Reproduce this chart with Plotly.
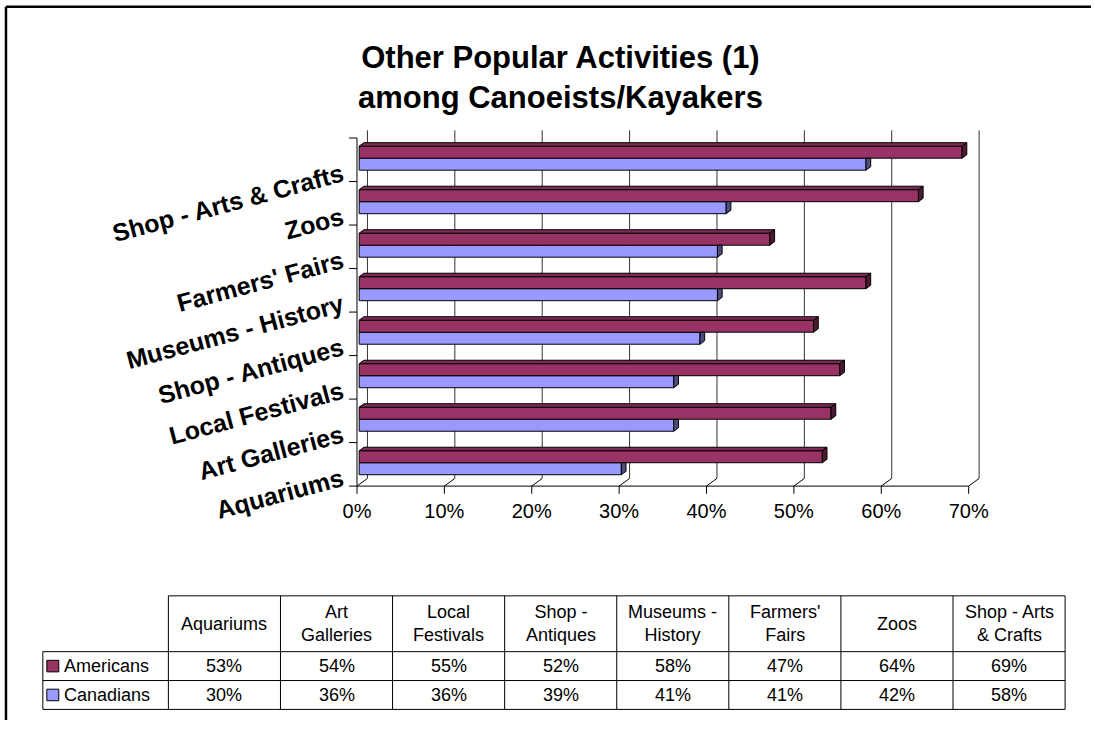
import plotly.graph_objects as go

# ---------------- data ----------------
categories = ["Aquariums", "Art Galleries", "Local Festivals", "Shop - Antiques",
              "Museums - History", "Farmers' Fairs", "Zoos", "Shop - Arts & Crafts"]
americans = [53, 54, 55, 52, 58, 47, 64, 69]
canadians = [30, 36, 36, 39, 41, 41, 42, 58]
header_labels = ["Aquariums", "Art<br>Galleries", "Local<br>Festivals", "Shop -<br>Antiques",
                 "Museums -<br>History", "Farmers'<br>Fairs", "Zoos", "Shop - Arts<br>& Crafts"]
series_names = ["Americans", "Canadians"]
x_ticks = [0, 10, 20, 30, 40, 50, 60, 70]
title_lines = ["Other Popular Activities (1)", "among Canoeists/Kayakers"]

# ---------------- styling / geometry ----------------
AM_COL, AM_TOP, AM_SIDE = "#993366", "#7d2a54", "#4d1a33"
CA_COL, CA_SIDE = "#9999FF", "#4d4d80"
FONT = "Liberation Sans, Arial, sans-serif"

W, H = 1095, 748
X0PX, SX = 358.3, 8.77      # pixel of 0% on the front plane, px per %
Y0PX, SY = 505.0, 45.2      # pixel of front floor, px per category
XMIN, XMAX = -1.6, 71.8
YMIN, YMAX = -0.2, 8.4
DX = 10.5 / SX              # wall depth in x units
DY = 8.0 / SY               # wall depth in y units
NCAT = len(categories)

def pxx(p):
    return p / W

def pxy(p):
    return 1 - p / H

xdom = [pxx(X0PX + XMIN * SX), pxx(X0PX + XMAX * SX)]
ydom = [pxy(Y0PX - YMIN * SY), pxy(Y0PX - YMAX * SY)]

# bar depth placement
F0, FB = 0.21, 0.45
bx0, by0 = F0 * DX, F0 * DY
bdx, bdy = FB * DX, FB * DY
BW = 0.276

am_y = [i + 0.5 + by0 + BW / 2 for i in range(NCAT)]
ca_y = [i + 0.5 + by0 - BW / 2 for i in range(NCAT)]

fig = go.Figure()

# front faces of the bars
fig.add_trace(go.Bar(orientation="h", y=ca_y, x=canadians, base=bx0, width=BW,
                     marker=dict(color=CA_COL, line=dict(color="black", width=1)),
                     name=series_names[1], showlegend=False, hoverinfo="skip"))
fig.add_trace(go.Bar(orientation="h", y=am_y, x=americans, base=bx0, width=BW,
                     marker=dict(color=AM_COL, line=dict(color="black", width=1)),
                     name=series_names[0], showlegend=False, hoverinfo="skip"))

# 3D faces
def side_faces(vals, ys, clip_top=False):
    xs, yy = [], []
    for v, yc in zip(vals, ys):
        xe = v + bx0
        b, t = yc - BW / 2, yc + BW / 2
        top_right = t if clip_top else t + bdy
        xs += [xe, xe + bdx, xe + bdx, xe, xe, None]
        yy += [b, b + bdy, top_right, t, b, None]
    return xs, yy

def top_faces(vals, ys):
    xs, yy = [], []
    for v, yc in zip(vals, ys):
        xe = v + bx0
        t = yc + BW / 2
        xs += [bx0, bx0 + bdx, xe + bdx, xe, bx0, None]
        yy += [t, t + bdy, t + bdy, t, t, None]
    return xs, yy

cx, cy = side_faces(canadians, ca_y, clip_top=True)
fig.add_trace(go.Scatter(x=cx, y=cy, mode="lines", fill="toself", fillcolor=CA_SIDE,
                         line=dict(color="black", width=1), showlegend=False, hoverinfo="skip"))
tx, ty = top_faces(americans, am_y)
fig.add_trace(go.Scatter(x=tx, y=ty, mode="lines", fill="toself", fillcolor=AM_TOP,
                         line=dict(color="black", width=1), showlegend=False, hoverinfo="skip"))
sx_, sy_ = side_faces(americans, am_y)
fig.add_trace(go.Scatter(x=sx_, y=sy_, mode="lines", fill="toself", fillcolor=AM_SIDE,
                         line=dict(color="black", width=1), showlegend=False, hoverinfo="skip"))

shapes = []
LINE = dict(color="black", width=1)
# back-wall gridlines, floor diagonals, front ticks
for t in x_ticks:
    shapes.append(dict(type="line", xref="x", yref="y", x0=t + DX, x1=t + DX, y0=DY, y1=NCAT + DY,
                       line=dict(color="#333333", width=1), layer="below"))
    shapes.append(dict(type="line", xref="x", yref="y", x0=t, x1=t + DX, y0=0, y1=DY,
                       line=LINE, layer="below"))
    shapes.append(dict(type="line", xref="x", yref="y", x0=t, x1=t, y0=0, y1=-8 / SY,
                       line=LINE, layer="below"))
# front floor edge
shapes.append(dict(type="line", xref="x", yref="y", x0=0, x1=x_ticks[-1], y0=0, y1=0,
                   line=LINE, layer="below"))
# category axis and its ticks
shapes.append(dict(type="line", xref="x", yref="y", x0=0, x1=0, y0=0, y1=NCAT,
                   line=LINE, layer="below"))
for i in range(NCAT + 1):
    shapes.append(dict(type="line", xref="x", yref="y", x0=0, x1=-8 / SX, y0=i, y1=i,
                       line=LINE, layer="below"))

# outer chart border (left and top edges visible)
BORDER = dict(color="black", width=2.5)
shapes.append(dict(type="line", xref="paper", yref="paper", x0=pxx(6), x1=pxx(6),
                   y0=0, y1=pxy(7), line=BORDER))
shapes.append(dict(type="line", xref="paper", yref="paper", x0=pxx(6), x1=1,
                   y0=pxy(7), y1=pxy(7), line=BORDER))

# ---------------- data table ----------------
col_x = [169 + 112.5 * k for k in range(NCAT + 1)]
row_y = [619, 677, 707, 737]
leg_x = 43
annotations = []

def hline(x0, x1, y):
    shapes.append(dict(type="line", xref="paper", yref="paper", x0=pxx(x0), x1=pxx(x1),
                       y0=pxy(y), y1=pxy(y), line=LINE))

def vline(x, y0, y1):
    shapes.append(dict(type="line", xref="paper", yref="paper", x0=pxx(x), x1=pxx(x),
                       y0=pxy(y0), y1=pxy(y1), line=LINE))

hline(col_x[0], col_x[-1], row_y[0])
for y in row_y[1:]:
    hline(leg_x, col_x[-1], y)
for x in col_x:
    vline(x, row_y[0], row_y[-1])
vline(leg_x, row_y[1], row_y[-1])

TFONT = dict(family=FONT, size=18, color="black")
for k, lab in enumerate(header_labels):
    annotations.append(dict(xref="paper", yref="paper", x=pxx((col_x[k] + col_x[k + 1]) / 2),
                            y=pxy((row_y[0] + row_y[1]) / 2), text=lab, showarrow=False,
                            font=TFONT, xanchor="center", yanchor="middle"))
for r, (vals, name, col) in enumerate([(americans, series_names[0], AM_COL),
                                       (canadians, series_names[1], CA_COL)]):
    yc = (row_y[r + 1] + row_y[r + 2]) / 2
    for k, v in enumerate(vals):
        annotations.append(dict(xref="paper", yref="paper", x=pxx((col_x[k] + col_x[k + 1]) / 2),
                                y=pxy(yc), text=f"{v}%", showarrow=False, font=TFONT,
                                xanchor="center", yanchor="middle"))
    shapes.append(dict(type="rect", xref="paper", yref="paper", x0=pxx(47), x1=pxx(59),
                       y0=pxy(yc + 6), y1=pxy(yc - 6), fillcolor=col, line=LINE))
    annotations.append(dict(xref="paper", yref="paper", x=pxx(62), y=pxy(yc), text=name,
                            showarrow=False, font=TFONT, xanchor="left", yanchor="middle"))

# title
annotations.append(dict(xref="paper", yref="paper", x=pxx(563), y=pxy(81),
                        text="<b>" + "<br>".join(title_lines) + "</b>", showarrow=False,
                        font=dict(family=FONT, size=31, color="black"),
                        xanchor="center", yanchor="middle"))

fig.update_layout(
    width=W, height=H, margin=dict(l=0, r=0, t=0, b=0),
    paper_bgcolor="white", plot_bgcolor="rgba(0,0,0,0)",
    barmode="overlay", showlegend=False,
    xaxis=dict(domain=xdom, range=[XMIN, XMAX], showgrid=False, zeroline=False, showline=False,
               tickmode="array", tickvals=x_ticks, ticktext=[f"{t}%" for t in x_ticks],
               ticks="", ticklabelstandoff=2,
               tickfont=dict(family=FONT, size=20, color="black"), fixedrange=True),
    yaxis=dict(domain=ydom, range=[YMIN, YMAX], showgrid=False, zeroline=False, showline=False,
               tickmode="array", tickvals=[i + 0.21 for i in range(NCAT)], ticktext=categories,
               ticks="", tickangle=-15,
               tickfont=dict(family=FONT, size=25, color="black", weight="bold"), fixedrange=True),
    shapes=shapes, annotations=annotations,
)

fig.write_html("out.html")
